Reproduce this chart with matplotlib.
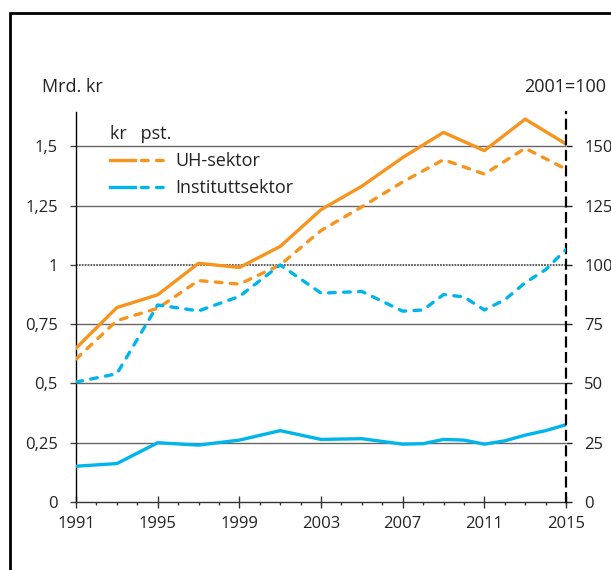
import matplotlib
matplotlib.use("Agg")
import matplotlib.pyplot as plt
from matplotlib.legend_handler import HandlerTuple
from matplotlib.patches import Rectangle

plt.rcParams['font.family'] = ['Open Sans', 'DejaVu Sans']

# data
years = [1991, 1993, 1995, 1997, 1999, 2001, 2003, 2005, 2007, 2009, 2011, 2013, 2015]
uh_kr = [0.649, 0.820, 0.874, 1.007, 0.989, 1.078, 1.233, 1.332, 1.453, 1.559, 1.482, 1.615, 1.51]
uh_idx = [60.3, 76.5, 81.7, 93.4, 91.9, 100, 114.5, 124.5, 135.0, 144.4, 138.3, 149.2, 140.4]

inst_years = [1991, 1993, 1995, 1997, 1999, 2001, 2003, 2005, 2007, 2008, 2009,
              2010, 2011, 2012, 2013, 2014, 2015]
inst_kr = [0.151, 0.162, 0.250, 0.240, 0.261, 0.301, 0.264, 0.267, 0.244, 0.246,
           0.264, 0.261, 0.244, 0.258, 0.282, 0.301, 0.326]
inst_idx = [50.6, 54.1, 83.1, 80.6, 86.7, 100, 88.1, 88.8, 80.5, 81.0, 87.5,
            86.5, 81.0, 85.3, 92.5, 98.0, 106.5]

left_ticks = [0, 0.25, 0.5, 0.75, 1, 1.25, 1.5]
left_labels = ['0', '0,25', '0,5', '0,75', '1', '1,25', '1,5']
right_ticks = [0, 25, 50, 75, 100, 125, 150]
right_labels = ['0', '25', '50', '75', '100', '125', '150']
x_major = [1991, 1995, 1999, 2003, 2007, 2011, 2015]

ORANGE = '#F7941D'
BLUE = '#00B4EC'
GRID = '#666666'
TXT = '#222222'
FS = 12     # tick labels
FS2 = 13    # legend and axis captions

fig = plt.figure(figsize=(6.11, 5.70), dpi=100)
ax = fig.add_axes([0.1244, 0.1193, 0.8020, 0.6842])
ax2 = ax.twinx()

ymax = 1.645
ax.set_xlim(1991, 2015)
ax.set_ylim(0, ymax)
ax2.set_ylim(0, ymax * 100)

# gridlines
for v in left_ticks[1:]:
    if v == 1:
        ax.axhline(v, color='#555555', lw=1.3, ls=(0, (1, 0.6)), zorder=1)
    else:
        ax.axhline(v, color=GRID, lw=1.0, zorder=1)

lw = 2.4
dash = (0, (2.0, 2.5))
ax.plot(years, uh_kr, color=ORANGE, lw=lw, zorder=3)
ax.plot(inst_years, inst_kr, color=BLUE, lw=lw, zorder=3)
l_uh, = ax2.plot(years, uh_idx, color=ORANGE, lw=lw, ls=dash,
                 dash_capstyle='round', zorder=3)
l_in, = ax2.plot(inst_years, inst_idx, color=BLUE, lw=lw, ls=dash,
                 dash_capstyle='round', zorder=3)

# axes styling
for a in (ax, ax2):
    a.spines['top'].set_visible(False)
ax.spines['right'].set_visible(False)
ax2.spines['left'].set_visible(False)
ax2.spines['bottom'].set_visible(False)
ax2.spines['right'].set_linestyle((0, (4, 3)))
ax2.spines['right'].set_linewidth(1.6)
ax.spines['left'].set_linewidth(1.0)
ax.spines['bottom'].set_linewidth(1.0)
ax.spines['bottom'].set_color('#333333')

ax.set_yticks(left_ticks)
ax.set_yticklabels(left_labels)
ax2.set_yticks(right_ticks)
ax2.set_yticklabels(right_labels)
ax.tick_params(axis='y', direction='out', length=4, width=1.0, pad=9,
               labelsize=FS, labelcolor=TXT, color='#444444')
ax2.tick_params(axis='y', direction='out', length=4.5, width=1.0, pad=8.5,
                labelsize=FS, labelcolor=TXT, color='#222222')

ax.set_xticks(x_major)
ax.set_xticks(range(1991, 2016), minor=True)
ax.tick_params(axis='x', which='major', direction='inout', length=8, width=1.0,
               pad=6, labelsize=FS, labelcolor=TXT, color='#333333')
ax.tick_params(axis='x', which='minor', direction='out', length=2.5, width=1.0,
               color='#333333')

# legend: solid (kr) and dashed (pst.) samples side by side
s_uh, = ax.plot([], [], color=ORANGE, lw=lw)
s_in, = ax.plot([], [], color=BLUE, lw=lw)
leg = ax.legend([(s_uh, l_uh), (s_in, l_in)], ['UH-sektor', 'Instituttsektor'],
                handler_map={tuple: HandlerTuple(ndivide=None, pad=0.35)},
                title='kr   pst.', alignment='left', frameon=False,
                loc='upper left', bbox_to_anchor=(0.062, 0.977),
                fontsize=FS2, title_fontsize=FS2, handlelength=3.1,
                handletextpad=0.5, labelspacing=0.52, borderaxespad=0,
                borderpad=0.2)
for t in leg.get_texts():
    t.set_color(TXT)
leg.get_title().set_color(TXT)

fig.text(42 / 611, 1 - 92 / 570, 'Mrd. kr', fontsize=FS2, va='baseline', ha='left',
         color=TXT)
fig.text(606 / 611, 1 - 92 / 570, '2001=100', fontsize=FS2, va='baseline', ha='right',
         color=TXT)

# outer frame (cut off at the right and bottom edges)
fig.add_artist(Rectangle((10 / 611, -0.2), 2, 1.2 - 12.5 / 570, transform=fig.transFigure,
                         fill=False, lw=2.0, edgecolor='black'))

fig.savefig('out.png', dpi=100)
